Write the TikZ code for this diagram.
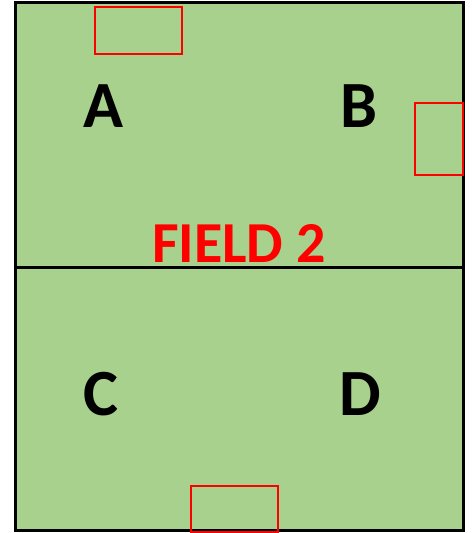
\documentclass[tikz,border=0pt]{standalone}
\usepackage{fontspec}
\setmainfont{Carlito}
\usetikzlibrary{positioning}

\definecolor{grass}{HTML}{A9D18E}

\begin{document}
\begin{tikzpicture}[
    x=1pt, y=-1pt,
    line width=3pt,
    goal/.style={draw=red, line width=2.6pt},
    zone/.style={font=\fontsize{66}{66}\selectfont\bfseries, inner sep=0pt},
]

% page size in pixels of the reference
\useasboundingbox (0,0) rectangle (473,533);

%------------------------------------------------------------
% field and halfway line
%------------------------------------------------------------
\coordinate (NW) at (15,2);
\coordinate (SE) at (463,530);
\coordinate (MidW) at (15,267);
\coordinate (MidE) at (463,267);

\fill[grass] (NW) rectangle (SE);
\draw (NW) rectangle (SE);
\draw (MidW) -- (MidE);

%------------------------------------------------------------
% goals (red boxes)
%------------------------------------------------------------
\draw[goal] (95,7) rectangle (182,54);
\draw[goal] (415,103) rectangle (463,175);
\draw[goal] (191,486) rectangle (278,532);

%------------------------------------------------------------
% zone letters and title
%------------------------------------------------------------
\node[zone] (A) at (103,106) {A};
\node[zone] (B) at (359,106) {B};
\node[zone] (C) at (101,394) {C};
\node[zone] (D) at (360,394) {D};

\node[zone, text=red, font=\fontsize{58}{58}\selectfont\bfseries] (title) at (239,243) {FIELD 2};

\end{tikzpicture}
\end{document}
